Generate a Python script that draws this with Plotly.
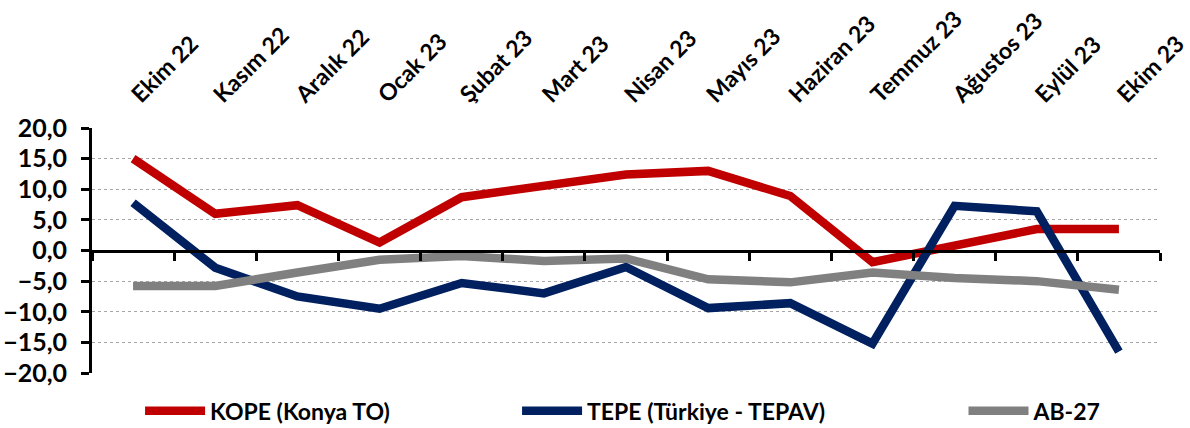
import plotly.graph_objects as go

months = ["Ekim 22", "Kasım 22", "Aralık 22", "Ocak 23", "Şubat 23", "Mart 23",
          "Nisan 23", "Mayıs 23", "Haziran 23", "Temmuz 23", "Ağustos 23", "Eylül 23", "Ekim 23"]
kope = [15.0, 6.0, 7.4, 1.3, 8.7, 10.7, 12.4, 13.0, 8.9, -1.9, 0.8, 3.5, 3.5]
tepe = [7.8, -2.8, -7.5, -9.5, -5.3, -7.0, -2.7, -9.4, -8.6, -15.2, 7.3, 6.4, -16.5]
ab27 = [-5.8, -5.8, -3.6, -1.5, -0.9, -1.7, -1.3, -4.7, -5.2, -3.6, -4.5, -5.0, -6.4]

series = [("KOPE (Konya TO)", kope, "#C00000", "legend"),
          ("TEPE (Türkiye - TEPAV)", tepe, "#002060", "legend2"),
          ("AB-27", ab27, "#808080", "legend3")]

FONT = "Lato"
fig = go.Figure()
for name, vals, col, lg in series:
    fig.add_trace(go.Scatter(x=months, y=vals, name=name, mode="lines",
                             line=dict(color=col, width=8.5), legend=lg))

n = len(months)
boundaries = [i - 0.5 for i in range(n + 1)]

legfont = dict(family=FONT, size=23, color="black", weight=700)
legcommon = dict(yref="container", y=0.04, xanchor="left", yanchor="middle",
                 orientation="h", font=legfont, bgcolor="rgba(0,0,0,0)", itemwidth=60)
fig.update_layout(
    width=1190, height=428,
    margin=dict(l=92, r=30, t=128, b=55),
    plot_bgcolor="white", paper_bgcolor="white",
    separators=",.",
    showlegend=True,
    xaxis=dict(type="category", categoryorder="array", categoryarray=months,
               range=[-0.5, n - 0.5], side="top", showline=False, ticks="",
               showgrid=False, zeroline=False, tickangle=-45, automargin=False,
               ticklabelstandoff=15,
               tickfont=dict(family=FONT, size=23, color="black", weight=700)),
    xaxis2=dict(overlaying="x", anchor="free", position=0.5, range=[-0.5, n - 0.5],
                tickmode="array", tickvals=boundaries, showticklabels=False,
                ticks="outside", ticklen=8, tickwidth=3, tickcolor="black",
                showline=True, linecolor="black", linewidth=3, showgrid=False,
                zeroline=False, automargin=False),
    yaxis=dict(range=[-20, 20], tickmode="linear", tick0=-20, dtick=5,
               tickformat=".1f", showline=True, linecolor="black", linewidth=3,
               ticks="outside", ticklen=8, tickwidth=3, tickcolor="black",
               showgrid=True, gridcolor="#A6A6A6", gridwidth=1, griddash="dot",
               zeroline=False, ticklabelstandoff=9, automargin=False,
               tickfont=dict(family=FONT, size=25, color="black", weight=700)),
    legend=dict(x=0.045, **legcommon),
    legend2=dict(x=0.398, **legcommon),
    legend3=dict(x=0.816, **legcommon),
)
fig.add_trace(go.Scatter(x=[0], y=[None], xaxis="x2", showlegend=False,
                         hoverinfo="skip", mode="lines"))
fig.write_html("out.html", config={"displayModeBar": False},
               post_script="document.body.style.margin='0';document.body.style.overflow='hidden';")
